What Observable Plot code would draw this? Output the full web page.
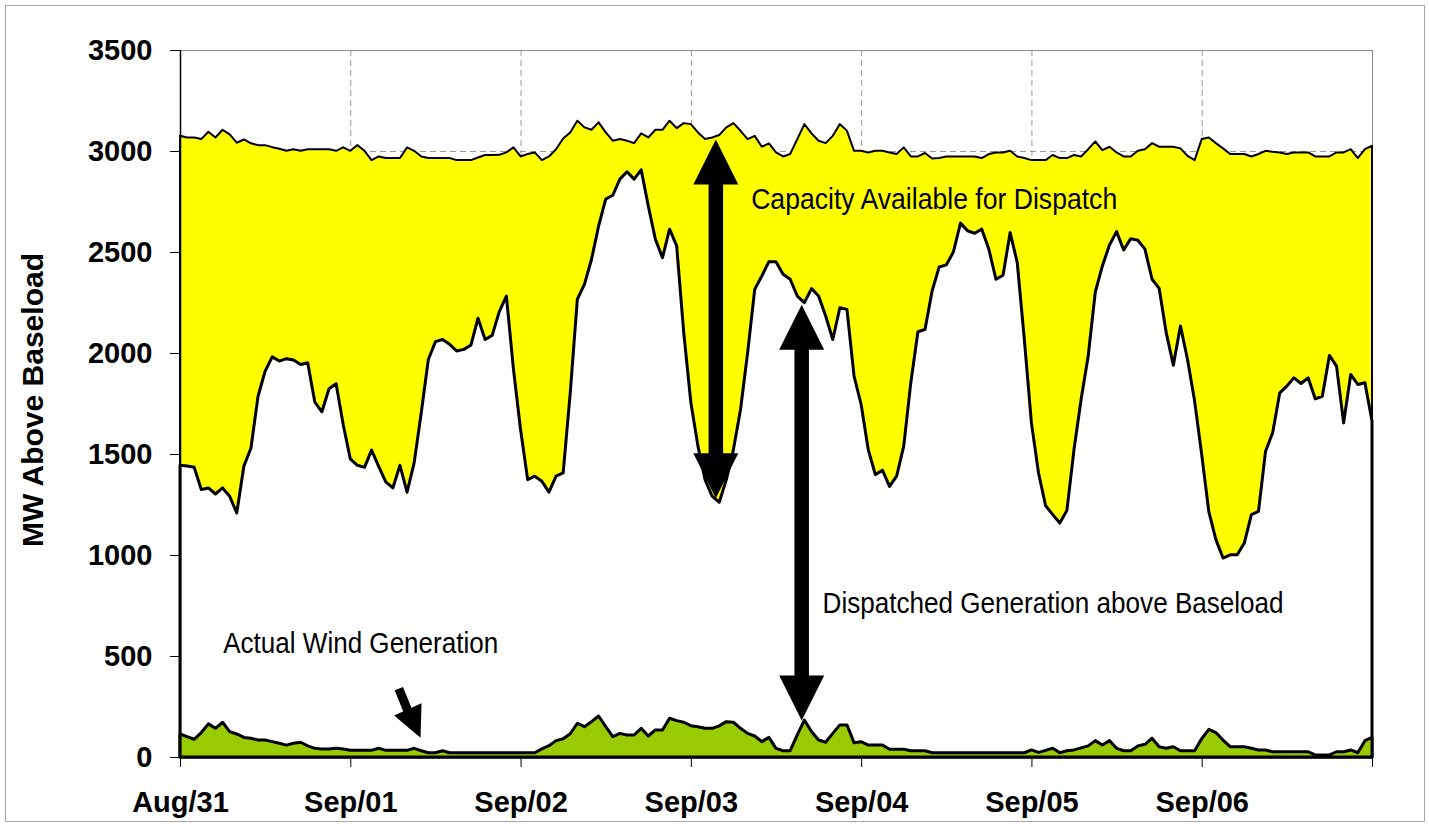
<!DOCTYPE html>
<html>
<head>
<meta charset="utf-8">
<script src="https://cdn.jsdelivr.net/npm/d3@7"></script>
<script src="https://cdn.jsdelivr.net/npm/@observablehq/plot@0.6"></script>
<style>
html, body { margin: 0; padding: 0; background: #fff; }
#wrap { position: relative; width: 1429px; height: 827px; overflow: hidden; background: #fff; }
#wrap svg { position: absolute; left: 0; top: 0; }
#border { position: absolute; left: 5px; top: 5px; width: 1418px; height: 815px; border: 1px solid #a6a6a6; pointer-events: none; z-index: 2; }
#wrap svg [aria-label="y-axis tick label"], #wrap svg [aria-label="x-axis tick label"] { font-weight: bold; font-size: 29px; }
</style>
</head>
<body>
<div id="wrap"><div id="border"></div></div>
<script>
// ---- axis ticks / labels ----
const dayTickHours = [0, 24, 48, 72, 96, 120, 144, 168];
const dayLabels = ["Aug/31", "Sep/01", "Sep/02", "Sep/03", "Sep/04", "Sep/05", "Sep/06", ""];
const yTicks = [0, 500, 1000, 1500, 2000, 2500, 3000, 3500];
const yTitle = "MW Above Baseload";

// ---- hourly series (MW above baseload), hour 0 = Aug/31 00:00 ----
const capacity = [
  3075,3067,3067,3059,3095,3067,3105,3082,3041,3057,3038,3029,3029,3019,3011,3001,3009,3001,3009,3009,3009,3009,3001,3018,
  3001,3029,3001,2955,2973,2965,2965,2965,3018,3001,2973,2965,2965,2965,2965,2955,2955,2955,2968,2980,2980,2981,2993,3018,
  2973,2985,2993,2955,2973,3009,3062,3092,3150,3117,3105,3142,3092,3051,3059,3051,3039,3087,3067,3105,3105,3150,3113,3138,
  3133,3092,3059,3067,3079,3117,3138,3100,3059,3075,3021,3038,2993,2973,2985,3059,3133,3087,3051,3039,3075,3133,3100,3001,
  3001,2993,3001,3001,2993,2985,3018,2973,2973,2990,2963,2965,2973,2973,2973,2973,2973,2965,2985,2993,2993,3001,2973,2965,
  2955,2955,2955,2980,2965,2965,2980,2973,3009,3047,3004,3021,2993,2973,2973,3001,3009,3039,3021,3021,3021,3013,2976,2955,
  3059,3067,3039,3013,2985,2985,2985,2973,2985,3001,2996,2993,2985,2993,2993,2993,2973,2973,2973,2993,2993,3009,2965,3009,
  3026
];
const dispatched = [
  1444,1441,1434,1324,1332,1302,1332,1291,1208,1439,1530,1786,1910,1981,1960,1972,1965,1943,1952,1757,1709,1823,1848,1646,
  1476,1444,1434,1519,1439,1362,1332,1444,1311,1456,1704,1968,2056,2067,2043,2010,2018,2039,2172,2067,2087,2205,2282,1919,
  1621,1373,1390,1365,1311,1390,1406,1803,2266,2340,2464,2629,2762,2781,2861,2897,2861,2907,2728,2563,2472,2613,2530,2100,
  1755,1539,1373,1291,1261,1373,1522,1720,2001,2315,2381,2452,2452,2390,2365,2282,2249,2319,2282,2183,2067,2224,2216,1886,
  1745,1522,1398,1420,1340,1390,1539,1853,2105,2117,2307,2426,2436,2500,2643,2605,2593,2613,2514,2365,2385,2596,2448,2067,
  1654,1406,1244,1200,1158,1221,1522,1770,1985,2302,2431,2535,2601,2510,2566,2558,2514,2365,2320,2100,1940,2134,1968,1762,
  1497,1215,1076,985,1001,1001,1059,1200,1216,1514,1605,1803,1836,1877,1849,1877,1773,1786,1988,1935,1654,1894,1844,1853,
  1663
];
const wind = [
  114,101,88,121,164,142,172,126,114,97,93,84,84,76,68,59,68,73,55,43,40,40,43,40,
  33,33,33,33,43,33,33,33,33,43,31,21,21,31,21,21,21,21,21,21,21,21,21,21,
  21,21,21,40,56,81,90,115,167,150,175,203,150,101,117,109,109,142,104,134,134,192,180,172,
  155,150,142,142,154,175,172,142,117,104,76,97,43,31,31,109,183,126,84,73,117,159,159,71,
  76,59,59,59,38,38,38,31,31,31,21,21,21,21,21,21,21,21,21,21,21,21,21,21,
  35,23,33,43,21,31,35,45,55,81,59,81,43,31,31,55,63,93,51,43,51,31,31,31,
  91,137,121,84,51,51,51,43,35,35,26,26,26,26,26,26,10,10,10,26,26,35,21,81,
  97
];

// ---- annotations (data space: hour, MW) ----
const annotationLabels = [
  {label: "Capacity Available for Dispatch", hour: 80.43, mw: 2715, width: 366},
  {label: "Dispatched Generation above Baseload", hour: 90.5, mw: 714, width: 461},
  {label: "Actual Wind Generation", hour: 6.02, mw: 517, width: 275}
];
const bigShafts = [
  {x1: 75.45, y1: 2861, x2: 75.45, y2: 1487},
  {x1: 87.55, y1: 2053, x2: 87.55, y2: 367}
];
const bigHeads = [
  {hour: 75.45, mw: 3059, rot: 0},
  {hour: 75.45, mw: 1284, rot: 180},
  {hour: 87.55, mw: 2241, rot: 0},
  {hour: 87.55, mw: 183, rot: 180}
];
const smallShafts = [{x1: 30.77, y1: 341, x2: 32.12, y2: 224}];
const smallHeads = [{hour: 33.83, mw: 98, rot: 155.8}];

function triangleHead(w, h) {
  return {
    draw(ctx) {
      ctx.moveTo(0, 0);
      ctx.lineTo(w / 2, h);
      ctx.lineTo(-w / 2, h);
      ctx.closePath();
    }
  };
}

const rows = capacity.map((c, i) => ({hour: i, capacity: c, dispatched: dispatched[i], wind: wind[i]}));

const narrowFont = "'Liberation Sans Narrow', 'Arial Narrow', 'Liberation Sans', Arial, sans-serif";

const plot = Plot.plot({
  width: 1429,
  height: 827,
  marginLeft: 180,
  marginRight: 57,
  marginTop: 50,
  marginBottom: 70,
  x: {type: "linear", domain: [0, 168]},
  y: {domain: [0, 3500]},
  style: {fontFamily: "'Liberation Sans', Arial, sans-serif", background: "transparent", color: "black"},
  marks: [
    // gridlines (hidden by the areas except above the capacity line)
    Plot.ruleX(dayTickHours.slice(1, -1), {stroke: "#9a9a9a", strokeWidth: 1, strokeDasharray: "6,4"}),
    Plot.ruleY(yTicks.slice(1, -1), {stroke: "#9a9a9a", strokeWidth: 1, strokeDasharray: "6,4"}),
    Plot.ruleY([3500], {stroke: "#8c8c8c", strokeWidth: 1}),
    Plot.ruleX([168], {stroke: "#8c8c8c", strokeWidth: 1}),
    // stacked-looking areas
    Plot.areaY(rows, {x: "hour", y: "capacity", fill: "#FFFF00", stroke: "black", strokeWidth: 2, strokeLinejoin: "round"}),
    Plot.areaY(rows, {x: "hour", y: "dispatched", fill: "white", stroke: "black", strokeWidth: 3, strokeLinejoin: "round"}),
    Plot.areaY(rows, {x: "hour", y: "wind", fill: "#99CC00", stroke: "black", strokeWidth: 3, strokeLinejoin: "round"}),
    // axis lines
    Plot.ruleX([0], {stroke: "black", strokeWidth: 1.5}),
    Plot.ruleY([0], {stroke: "black", strokeWidth: 1.5}),
    Plot.axisY({ticks: yTicks, tickSize: 10, tickPadding: 18, fontSize: 29, fontWeight: "bold", label: null, tickFormat: d => String(d)}),
    Plot.axisX({ticks: dayTickHours, tickSize: 10, tickPadding: 24, fontSize: 29, fontWeight: "bold", label: null,
      tickFormat: d => { const i = dayTickHours.indexOf(d); return i >= 0 ? dayLabels[i] : ""; }}),
    Plot.text([yTitle], {frameAnchor: "left", rotate: -90, dx: -138, dy: -4, fontSize: 30, fontWeight: "bold",
      textAnchor: "middle", lineAnchor: "bottom", fill: "black"}),
    // annotation labels
    Plot.text(annotationLabels, {x: "hour", y: "mw", text: "label", textAnchor: "start", lineAnchor: "bottom",
      fontSize: 29, fontFamily: narrowFont, fill: "black"}),
    // arrows
    Plot.link(bigShafts, {x1: "x1", y1: "y1", x2: "x2", y2: "y2", stroke: "black", strokeWidth: 14.5, strokeLinecap: "butt"}),
    Plot.dot(bigHeads, {x: "hour", y: "mw", rotate: "rot", symbol: triangleHead(45, 45), r: 10, fill: "black", stroke: "none"}),
    Plot.link(smallShafts, {x1: "x1", y1: "y1", x2: "x2", y2: "y2", stroke: "black", strokeWidth: 9, strokeLinecap: "butt"}),
    Plot.dot(smallHeads, {x: "hour", y: "mw", rotate: "rot", symbol: triangleHead(30, 31), r: 10, fill: "black", stroke: "none"})
  ]
});

// condense the annotation labels to the reference widths
const widthByLabel = new Map(annotationLabels.map(d => [d.label, d.width]));
d3.select(plot).selectAll("text").each(function () {
  const w = widthByLabel.get(this.textContent);
  if (w) {
    this.setAttribute("textLength", w);
    this.setAttribute("lengthAdjust", "spacingAndGlyphs");
  }
});

document.getElementById("wrap").appendChild(plot);
</script>
</body>
</html>
